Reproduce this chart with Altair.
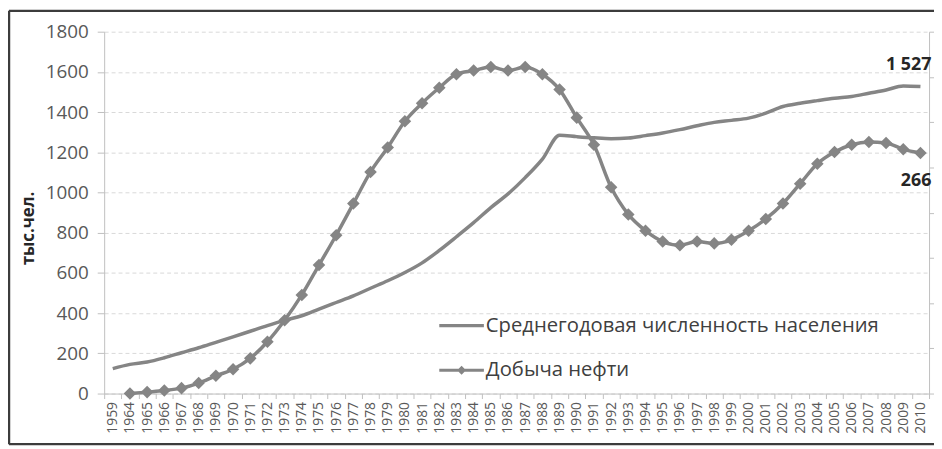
import altair as alt
import pandas as pd

FONT = "Open Sans"
GREY = "#858585"

years = ["1959", "1964", "1965", "1966", "1967", "1968", "1969", "1970", "1971", "1972",
         "1973", "1974", "1975", "1976", "1977", "1978", "1979", "1980", "1981", "1982",
         "1983", "1984", "1985", "1986", "1987", "1988", "1989", "1990", "1991", "1992",
         "1993", "1994", "1995", "1996", "1997", "1998", "1999", "2000", "2001", "2002",
         "2003", "2004", "2005", "2006", "2007", "2008", "2009", "2010"]

# Population, thousand people (left axis)
population = [124, 145, 157, 178, 203, 228, 255, 282, 310, 338,
              364, 387, 420, 453, 486, 524, 561, 602, 650, 712,
              780, 850, 925, 993, 1074, 1166, 1285, 1278, 1272, 1268,
              1271, 1283, 1296, 1313, 1332, 1349, 1359, 1370, 1395, 1428,
              1444, 1457, 1469, 1478, 1494, 1510, 1530, 1527]

# Oil production, million tonnes (secondary axis, 0-400), from 1964
oil_years = years[1:]
oil = [0, 1.6, 3.3, 6, 11.6, 19.6, 26.9, 38.9, 57.3,
       81, 109, 142, 175, 210, 245, 272, 301, 321, 338,
       353, 357, 361, 357, 361, 353, 336, 305, 275, 228,
       198, 180, 168, 164, 168, 166, 170, 180, 193, 210,
       232, 254, 267, 275, 278, 277, 270, 266]

pop_name = "Среднегодовая численность населения"
oil_name = "Добыча нефти"
y_title = "тыс.чел."
left_ticks = [0, 200, 400, 600, 800, 1000, 1200, 1400, 1600, 1800]
right_ticks = [0, 50, 100, 150, 200, 250, 300, 350, 400]

pop_note = pd.DataFrame({"year": ["2010"], "value": [1527], "label": ["1 527"]})
oil_note = pd.DataFrame({"year": ["2010"], "value": [266], "label": ["266"]})

pop_df = pd.DataFrame({"year": years, "value": population, "series": pop_name})
oil_df = pd.DataFrame({"year": oil_years, "value": oil, "series": oil_name})

x_enc = alt.X(
    "year:O",
    sort=years,
    scale=alt.Scale(type="band", domain=years, paddingInner=0, paddingOuter=0),
    axis=alt.Axis(title=None, labelAngle=-90, tickBand="extent", labelFont=FONT,
                  labelFontSize=14, labelColor="#595959", domainColor="#bfbfbf",
                  tickColor="#bfbfbf", tickSize=5, labelPadding=3, grid=False),
)

# legend glyphs: a 45px line, and the same line with a diamond on it
line_path = "M-1,-0.07H1V0.07H-1Z"
diamond_path = "M-1,-0.07H1V0.07H-1ZM0,-0.2L0.2,0L0,0.2L-0.2,0Z"

shape_enc = alt.Shape(
    "series:N",
    scale=alt.Scale(domain=[pop_name, oil_name], range=[line_path, diamond_path]),
    legend=alt.Legend(
        title=None, orient="none", legendX=338, legendY=274,
        symbolSize=2025, symbolStrokeWidth=0, symbolFillColor=GREY, symbolOpacity=1,
        labelLimit=0, labelFont=FONT, labelFontSize=20.4,
        labelColor="#404040", labelOffset=2, rowPadding=12, padding=0,
    ),
)

y_left = alt.Y(
    "value:Q",
    scale=alt.Scale(domain=[0, 1800], nice=False),
    axis=alt.Axis(values=left_ticks, format="d", title=y_title, titleFont=FONT,
                  titleFontWeight="bold", titleFontSize=17, titleColor="#262626",
                  titlePadding=8, titleY=198,
                  labelFont=FONT, labelFontSize=19, labelColor="#595959", labelPadding=9,
                  tickSize=7, tickColor="#bfbfbf", domainColor="#bfbfbf",
                  gridDash=[4, 3], gridColor="#d9d9d9"),
)

y_right = alt.Y(
    "value:Q",
    scale=alt.Scale(domain=[0, 400], nice=False),
    axis=alt.Axis(orient="right", values=right_ticks, labels=False, title=None, grid=False,
                  tickSize=5, tickColor="#bfbfbf", domainColor="#bfbfbf"),
)

pop_line = alt.Chart(pop_df).mark_line(strokeWidth=3.5, interpolate="monotone", color=GREY).encode(
    x=x_enc, y=y_left
)
legend_layer = alt.Chart(pop_df).transform_filter("false").mark_point(
    filled=True, color=GREY, opacity=1
).encode(x=x_enc, y=y_left, shape=shape_enc)

pop_text = alt.Chart(pop_note).mark_text(
    font=FONT, fontWeight="bold", fontSize=18, color="#262626", align="right", dx=11, dy=-22
).encode(x=alt.X("year:O", sort=years), y=alt.Y("value:Q"), text="label:N")

frame_df = pd.DataFrame({"k": [0]})
frame_top = alt.Chart(frame_df).mark_rule(color="#3c3c3c", strokeWidth=2.5).encode(
    x=alt.value(-96), x2=alt.value(840), y=alt.value(-21))
frame_left = alt.Chart(frame_df).mark_rule(color="#3c3c3c", strokeWidth=2.5).encode(
    x=alt.value(-96), y=alt.value(-21), y2=alt.value(416))
frame_bottom = alt.Chart(frame_df).mark_rule(color="#3c3c3c", strokeWidth=2.5).encode(
    x=alt.value(-96), x2=alt.value(840), y=alt.value(416))

pop_group = alt.layer(pop_line, legend_layer, pop_text, frame_top, frame_left, frame_bottom)

oil_line = alt.Chart(oil_df).mark_line(strokeWidth=3.5, interpolate="monotone", color=GREY).encode(
    x=x_enc, y=y_right
)
oil_pts = alt.Chart(oil_df).mark_point(shape="diamond", filled=True, size=160, opacity=1,
                                       color=GREY).encode(x=x_enc, y=y_right)
oil_text = alt.Chart(oil_note).mark_text(
    font=FONT, fontWeight="bold", fontSize=18, color="#262626", align="right", dx=11, dy=28
).encode(x=alt.X("year:O", sort=years), y=alt.Y("value:Q"), text="label:N")

oil_group = alt.layer(oil_line, oil_pts, oil_text)

chart = alt.layer(pop_group, oil_group).resolve_scale(y="independent").properties(
    width=832, height=365,
    padding={"left": 97, "top": 22, "right": 5, "bottom": 52},
    autosize=alt.AutoSizeParams(type="none"),
    background="white",
).configure_view(stroke=None)

chart.save("out.html", embed_options={"renderer": "svg", "actions": False})
